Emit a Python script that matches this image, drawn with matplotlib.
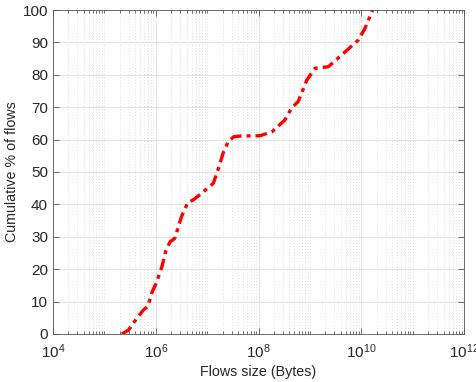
import numpy as np
import matplotlib
matplotlib.use("Agg")
import matplotlib.pyplot as plt
from matplotlib.ticker import FixedLocator, LogLocator, NullFormatter

# Data (log10 of flow size, cumulative %)
log_size = [5.34, 5.47, 5.63, 5.76, 5.85, 5.92, 6.02, 6.12, 6.19, 6.28, 6.37,
            6.50, 6.62, 6.73, 6.89, 7.12, 7.22, 7.31, 7.41, 7.52, 7.64, 8.03,
            8.26, 8.51, 8.64, 8.77, 8.94, 9.10, 9.36, 9.65, 9.94, 10.07, 10.22]
cum_pct = [0.0, 1.2, 4.8, 7.4, 8.6, 12.6, 16.1, 20.8, 25.4, 28.5, 29.5,
           36.2, 40.5, 41.4, 43.4, 46.5, 51.1, 55.8, 59.4, 60.9, 61.1, 61.2,
           62.4, 66.0, 69.7, 71.7, 78.4, 82.0, 82.5, 86.6, 90.7, 94.3, 100.0]
x_major = [1e4, 1e6, 1e8, 1e10, 1e12]
y_ticks = list(range(0, 101, 10))

plt.rcParams['font.family'] = ['Liberation Sans', 'DejaVu Sans']
plt.rcParams['mathtext.default'] = 'regular'

fig = plt.figure(figsize=(4.76, 3.82), dpi=100)
ax = fig.add_axes([0.1113, 0.1257, 0.8637, 0.8481])

sizes = np.power(10.0, log_size)
ax.plot(sizes, cum_pct, color='#ff0000', linestyle='-.', linewidth=2.4,
        dashes=(3.5, 1.5, 1.2, 1.5))

ax.set_xscale('log')
ax.set_xlim(1e4, 1e12)
ax.set_ylim(0, 100)
ax.xaxis.set_major_locator(FixedLocator(x_major))
ax.xaxis.set_minor_locator(LogLocator(base=10, subs=np.arange(1, 10), numticks=50))
ax.xaxis.set_minor_formatter(NullFormatter())
ax.set_xticklabels([r'$10^{%d}$' % int(np.log10(v)) for v in x_major])
ax.set_yticks(y_ticks)

dark = '#262626'
for s in ax.spines.values():
    s.set_color('#555555')
    s.set_linewidth(0.6)
ax.tick_params(which='both', direction='in', top=True, right=True, colors='#555555',
               labelcolor=dark, labelsize=11, width=0.6)
ax.tick_params(which='major', length=4)
ax.tick_params(which='minor', length=2.5)
ax.tick_params(axis='x', pad=6)

ax.grid(which='major', color='#e3e3e3', linewidth=0.8, linestyle='-')
ax.grid(which='minor', axis='x', color='#d4d4d4', linewidth=0.6, linestyle=(0, (1, 2.5)))
ax.set_axisbelow(True)

ax.set_xlabel('Flows size (Bytes)', fontsize=10.3, color=dark, labelpad=3)
ax.set_ylabel('Cumulative % of flows', fontsize=10.3, color=dark)
ax.yaxis.set_label_coords(-0.083, 0.5)

fig.savefig('out.png', dpi=100)
